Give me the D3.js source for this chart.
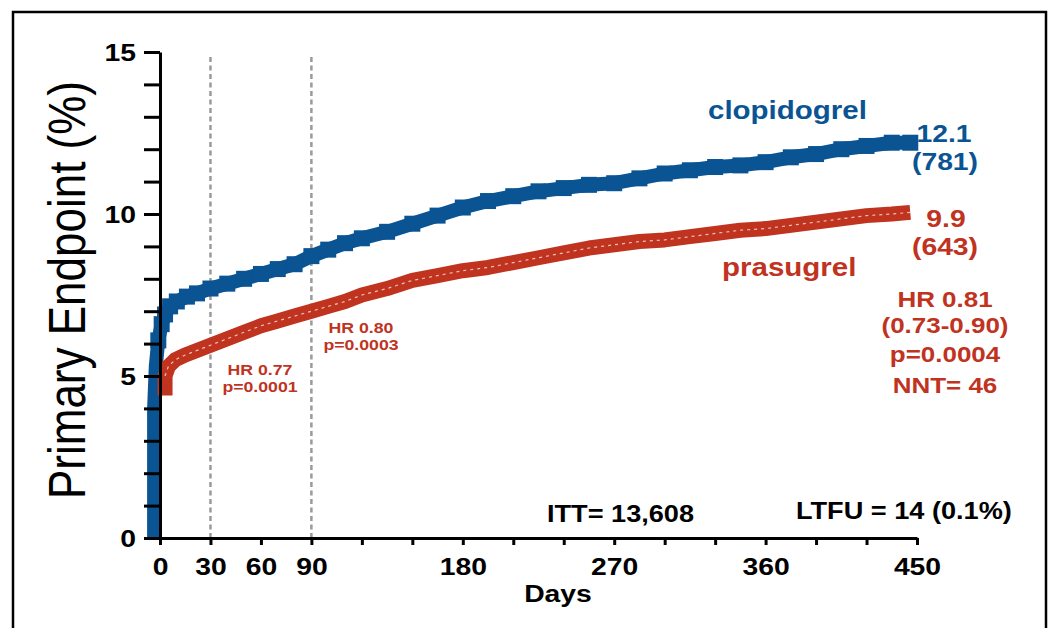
<!DOCTYPE html>
<html>
<head>
<meta charset="utf-8">
<script src="https://cdn.jsdelivr.net/npm/d3@7"></script>
<style>
  body { margin: 0; background: #fff; }
  text { font-family: "Liberation Sans", Arial, Helvetica, sans-serif; }
</style>
</head>
<body>
<div id="chart"></div>
<script>
  // days since randomisation, cumulative % with primary endpoint
  var clopidogrelDays = [-3.5, -3.5, -2.5, -1, 1, 3, 6, 10, 16, 22, 30, 40, 50, 60, 70, 80, 90, 100, 110, 120, 135, 150, 165, 180, 195, 210, 225, 240, 255, 270, 285, 300, 315, 330, 345, 360, 375, 390, 405, 420, 435, 446];
  var clopidogrelPct  = [0, 4, 5.3, 6.1, 6.6, 6.9, 7.15, 7.3, 7.45, 7.55, 7.7, 7.85, 8.0, 8.15, 8.3, 8.45, 8.7, 8.9, 9.1, 9.25, 9.45, 9.7, 9.95, 10.2, 10.4, 10.55, 10.7, 10.8, 10.9, 10.95, 11.1, 11.25, 11.35, 11.45, 11.5, 11.6, 11.75, 11.85, 12.0, 12.1, 12.2, 12.2];

  var prasugrelDays = [3, 3, 5, 9, 15, 20, 30, 40, 50, 60, 70, 80, 90, 100, 110, 120, 135, 150, 165, 180, 195, 210, 225, 240, 255, 270, 285, 300, 315, 330, 345, 360, 375, 390, 405, 420, 435, 446];
  var prasugrelPct  = [4.4, 5.0, 5.3, 5.5, 5.65, 5.75, 5.95, 6.15, 6.35, 6.55, 6.7, 6.85, 7.0, 7.15, 7.3, 7.5, 7.7, 7.95, 8.1, 8.25, 8.35, 8.5, 8.65, 8.8, 8.95, 9.05, 9.15, 9.2, 9.3, 9.4, 9.5, 9.55, 9.65, 9.75, 9.85, 9.95, 10.0, 10.05];

  var xTickValues = d3.range(0, 451, 30);
  var xTickLabels = [0, 30, 60, 90, 180, 270, 360, 450];
  var yTickValues = d3.range(0, 16, 1);
  var yTickLabels = [0, 5, 10, 15];
  var landmarkDays = [30, 90];

  var blue = "#0a5493", red = "#c0331f";
  var stretch = 1.18;   // the original lettering is drawn a bit wide

  var width = 1052, height = 628;
  var svg = d3.select("#chart").append("svg")
    .attr("width", width)
    .attr("height", height);

  // frame (open at the bottom)
  svg.append("path")
    .attr("d", "M13,640V12H1046V640")
    .attr("fill", "none")
    .attr("stroke", "#000")
    .attr("stroke-width", 2.5);

  var x = d3.scaleLinear().domain([0, 450]).range([160, 917]);
  var y = d3.scaleLinear().domain([0, 15]).range([538, 52]);

  // dashed landmark lines at 30 and 90 days
  svg.selectAll(".landmark")
    .data(landmarkDays)
    .enter().append("line")
    .attr("class", "landmark")
    .attr("x1", d => x(d)).attr("x2", d => x(d))
    .attr("y1", 57).attr("y2", y(0))
    .attr("stroke", "#9a9a9a")
    .attr("stroke-width", 2.5)
    .attr("stroke-dasharray", "5,3.5");

  var line = d3.line()
    .x(d => x(d[0]))
    .y(d => y(d[1]));

  var clopi = clopidogrelDays.map((d, i) => [d, clopidogrelPct[i]]);
  var prasu = prasugrelDays.map((d, i) => [d, prasugrelPct[i]]);

  // clopidogrel: thick blue line with square markers
  svg.append("path")
    .datum(clopi)
    .attr("d", line)
    .attr("fill", "none")
    .attr("stroke", blue)
    .attr("stroke-width", 14)
    .attr("stroke-linejoin", "round");

  svg.selectAll(".sq")
    .data(clopi.slice(3))
    .enter().append("rect")
    .attr("class", "sq")
    .attr("x", d => x(d[0]) - 8)
    .attr("y", d => y(d[1]) - 8)
    .attr("width", 16).attr("height", 16)
    .attr("fill", blue);

  // prasugrel: thick red line with a thin white dashed core
  svg.append("path")
    .datum(prasu)
    .attr("d", line)
    .attr("fill", "none")
    .attr("stroke", red)
    .attr("stroke-width", 15)
    .attr("stroke-linejoin", "round");

  svg.append("path")
    .datum(prasu.slice(1))
    .attr("d", line)
    .attr("fill", "none")
    .attr("stroke", "#fff")
    .attr("stroke-opacity", 0.7)
    .attr("stroke-width", 1.2)
    .attr("stroke-dasharray", "3,4");

  // axes
  var yAxis = d3.axisLeft(y)
    .tickValues(yTickValues)
    .tickSize(16)
    .tickSizeOuter(0)
    .tickFormat(d => yTickLabels.indexOf(d) >= 0 ? d : "");

  var gy = svg.append("g")
    .attr("transform", "translate(" + x(0) + ",0)")
    .call(yAxis);

  var xAxis = d3.axisBottom(x)
    .tickValues(xTickValues)
    .tickSize(7)
    .tickSizeOuter(0)
    .tickFormat(d => xTickLabels.indexOf(d) >= 0 ? d : "");

  var gx = svg.append("g")
    .attr("transform", "translate(0," + y(0) + ")")
    .call(xAxis);

  [gx, gy].forEach(function(g) {
    g.select(".domain").attr("stroke", "#000").attr("stroke-width", 3);
    g.selectAll(".tick line").attr("stroke", "#000").attr("stroke-width", 3);
  });

  gy.selectAll(".tick text")
    .attr("x", null).attr("dy", null)
    .attr("transform", "translate(-24,8) scale(" + stretch + ",1)")
    .attr("text-anchor", "end")
    .style("font-size", "24px")
    .style("font-weight", "bold")
    .style("font-family", "'Liberation Sans', Arial, sans-serif")
    .attr("fill", "#000");

  gx.selectAll(".tick text")
    .attr("y", null).attr("dy", null)
    .attr("transform", "translate(0,37) scale(" + stretch + ",1)")
    .attr("text-anchor", "middle")
    .style("font-size", "24px")
    .style("font-weight", "bold")
    .style("font-family", "'Liberation Sans', Arial, sans-serif")
    .attr("fill", "#000");

  // text helper
  function label(tx, ty, txt, size, color, anchor, weight) {
    svg.append("text")
      .attr("transform", "translate(" + tx + "," + ty + ") scale(" + stretch + ",1)")
      .attr("text-anchor", anchor || "middle")
      .style("font-size", size + "px")
      .style("font-weight", weight || "bold")
      .attr("fill", color)
      .text(txt);
  }

  // axis titles
  svg.append("text")
    .attr("transform", "translate(85,290) rotate(-90) scale(1," + stretch + ")")
    .attr("text-anchor", "middle")
    .style("font-size", "44px")
    .attr("fill", "#000")
    .text("Primary Endpoint (%)");

  label(558, 602, "Days", 24, "#000");

  // series labels and end values
  label(708, 119, "clopidogrel", 25, blue, "start");
  label(944, 142, "12.1", 24, blue);
  label(945, 170, "(781)", 24, blue);

  label(722, 276, "prasugrel", 25, red, "start");
  label(946, 227, "9.9", 24, red);
  label(945, 255, "(643)", 24, red);

  label(945, 307, "HR 0.81", 22, red);
  label(945, 333, "(0.73-0.90)", 22, red);
  label(945, 362, "p=0.0004", 22, red);
  label(945, 393, "NNT= 46", 22, red);

  // landmark hazard ratios
  label(260, 375, "HR 0.77", 15, red);
  label(260, 392, "p=0.0001", 15, red);
  label(361, 333, "HR 0.80", 15, red);
  label(361, 350, "p=0.0003", 15, red);

  label(547, 522, "ITT= 13,608", 23, "#000", "start");
  label(796, 519, "LTFU = 14 (0.1%)", 23, "#000", "start");
</script>
</body>
</html>
